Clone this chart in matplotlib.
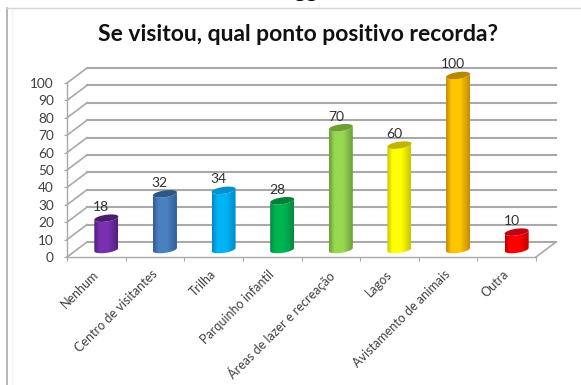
import matplotlib
matplotlib.use("Agg")
import matplotlib.pyplot as plt
import numpy as np
from matplotlib.patches import PathPatch, Polygon
from matplotlib.path import Path
from matplotlib.lines import Line2D

plt.rcParams['font.family'] = ['Lato', 'DejaVu Sans']

categories = ['Nenhum', 'Centro de visitantes', 'Trilha', 'Parquinho infantil',
              'Áreas de lazer e recreação', 'Lagos', 'Avistamento de animais', 'Outra']
values = [18, 32, 34, 28, 70, 60, 100, 10]
y_ticks = [0, 10, 20, 30, 40, 50, 60, 70, 80, 90, 100]

# (edge, middle, top cap)
cyl_colors = [('#4e1f7c', '#7a30b0', '#4a1c70'),
              ('#2f5c94', '#4a80c0', '#2c5688'),
              ('#0088c4', '#00b4f4', '#0090cc'),
              ('#008a40', '#00b450', '#008038'),
              ('#6c9c38', '#98d850', '#6f9e34'),
              ('#c4c400', '#ffff00', '#c0b400'),
              ('#c08c00', '#ffc400', '#b88600'),
              ('#c00000', '#ff0000', '#c40010')]

W, H = 581, 385
fig = plt.figure(figsize=(W / 100, H / 100), dpi=100, facecolor='white')

# front face of the plot box, in pixels from the top left
left, right, top, bottom = 67, 536, 83, 257
ax = fig.add_axes([left / W, 1 - bottom / H, (right - left) / W, (bottom - top) / H])
ax.set_xlim(0, len(categories))
ax.set_ylim(0, 100)
ax.patch.set_visible(False)

# pixel sizes in data units
px_x = len(categories) / (right - left)
px_y = 100 / (bottom - top)
dx = 20 * px_x
dy = 15 * px_y
GRID = '#a9a9a9'

for v in y_ticks:
    ax.plot([0, dx], [v, v + dy], color=GRID, lw=1.2, clip_on=False, zorder=1)
    ax.plot([dx, len(categories) + dx], [v + dy, v + dy], color=GRID, lw=1.5,
            clip_on=False, zorder=1)
ax.plot([len(categories), len(categories) + dx], [0, dy], color=GRID, lw=1.2,
        clip_on=False, zorder=1)


def ring(xc, yc, rx, ry, tilt, t):
    return np.column_stack([xc + rx * np.cos(t), yc + ry * np.sin(t) + tilt * np.cos(t)])


def cylinder(xc, value, colors):
    rx, ry, tilt = 12 * px_x, 3.4 * px_y, 1.6 * px_y
    base = dy / 2
    lower = ring(xc, base, rx, ry, tilt, np.linspace(np.pi, 2 * np.pi, 40))
    upper = ring(xc, base + value, rx, ry, tilt, np.linspace(2 * np.pi, np.pi, 40))
    body = PathPatch(Path(np.vstack([lower, upper, lower[:1]])), fc='none', ec='none',
                     transform=ax.transData)
    ax.add_patch(body)

    # shaded body: dark at the rims, bright in the middle
    edge = np.array(matplotlib.colors.to_rgb(colors[0]))
    mid = np.array(matplotlib.colors.to_rgb(colors[1]))
    s = np.linspace(0, 1, 48)
    mix = np.interp(s, [0, 0.22, 0.6, 1], [0, 1, 1, 0.05])
    grad = edge + (mid - edge) * mix[:, None]
    im = ax.imshow(grad[None, :, :], extent=[xc - rx, xc + rx, base - 5, base + value + 5],
                   aspect='auto', interpolation='bilinear', zorder=3)
    im.set_clip_box(fig.bbox)
    im.set_clip_path(body)

    cap = ring(xc, base + value, rx, ry, tilt, np.linspace(0, 2 * np.pi, 60))
    ax.add_patch(Polygon(cap, closed=True, fc=colors[2], ec='none', zorder=4, clip_on=False))
    ax.annotate(str(value), (xc, base + value), xytext=(-3.6, 8), textcoords='offset points',
                ha='center', va='center', fontsize=10, color='#303030',
                annotation_clip=False, zorder=5)


centers = np.arange(len(categories)) + 0.5
for c, v, col in zip(centers, values, cyl_colors):
    cylinder(c + dx / 2, v, col)
ax.set_xlim(0, len(categories))
ax.set_ylim(0, 100)

for s in ['top', 'right']:
    ax.spines[s].set_visible(False)
for s in ['left', 'bottom']:
    ax.spines[s].set_color(GRID)
    ax.spines[s].set_linewidth(1.0)

ax.set_yticks(y_ticks)
ax.tick_params(axis='y', length=2.5, width=0.8, color=GRID, labelsize=9.8,
               labelcolor='#404040', pad=7)
ax.set_xticks(np.arange(len(categories) + 1))
ax.set_xticklabels([])
ax.tick_params(axis='x', which='major', length=3, width=0.8, color=GRID)
ax.set_xticks(centers - 4 * px_x, labels=categories, minor=True, rotation=45, ha='right',
              rotation_mode='anchor', fontsize=9, color='#404040')
ax.tick_params(axis='x', which='minor', length=0, pad=8)

fig.text(297.5 / W, 1 - 34.5 / H, 'Se visitou, qual ponto positivo recorda?', ha='center',
         va='center', fontsize=16.5, fontweight='bold', color='#111111')

# bottom of the line of text above the chart frame
fig.text(305.5 / W, 1 + 3 / H, 'gg', ha='center', va='baseline', fontsize=17,
         fontweight='bold', color='black')

# chart frame
fig.add_artist(Line2D([6.5 / W, 6.5 / W], [0, 1 - 8 / H], color='#a4a4a4', lw=1.1))
fig.add_artist(Line2D([6.5 / W, 1], [1 - 7.5 / H, 1 - 7.5 / H], color='#d6d6d6', lw=1.0))
fig.add_artist(Line2D([11.5 / W, 11.5 / W], [0, 1 - 9 / H], color='#f4f4f4', lw=1.0))

fig.savefig('out.png', dpi=100)
